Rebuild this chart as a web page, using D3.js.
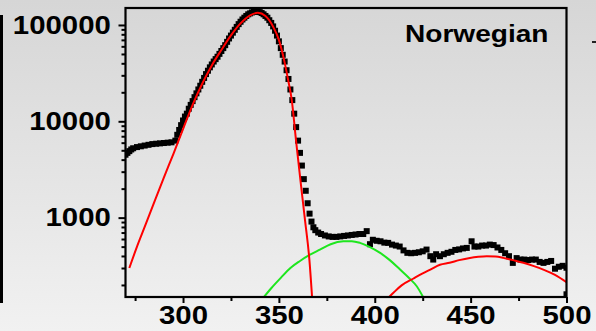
<!DOCTYPE html>
<html>
<head>
<meta charset="utf-8">
<script src="https://cdn.jsdelivr.net/npm/d3@7"></script>
<style>
  body { margin: 0; background: #e4e4e4; }
  svg { display: block; }
</style>
</head>
<body>
<svg id="chart" width="596" height="331"></svg>
<script>
// measured counts (black squares)
const dataX = [270,271,272,273,274,276,278,280,282,284,286,288,290,292,294,296,
  297,298,299,300,301,302,303,304,305,306,307,308,309,310,311,312,313,314,315,316,317,318,319,320,
  321,322,323,324,325,326,327,328,329,330,331,332,333,334,335,336,337,338,339,340,341,342,343,344,345,346,347,348,349,
  350,351,352,353,354,355,356,357,358,359,360,361,362,363,
  364,365,366,367,368,369,370.5,372,374,376,378,380,382,384,386,388,390,392,394,395.8,397.5,399,401,
  403,405,407,409,411,413,415,417,419,421,423,425,427,429,430.5,432,434,436,438,440,442,444,446,448,
  450.5,452,454,456,458,460,462,464,466,468,470,472,474,476,478,480,482,484,486,488,490,492,494,496,498,500,500];
const dataY = [4500,4700,4900,5100,5250,5400,5500,5600,5700,5800,5850,5900,5950,6000,6050,6300,
  7240,8130,9120,10200,11200,12000,13500,14800,16200,17800,19500,21400,23400,25700,28200,30900,33500,36300,38900,41700,44200,46800,50100,53700,
  57500,61700,66800,72400,77600,83200,89100,95500,102000,108000,114000,119000,124000,129000,132000,135000,137000,138000,138000,136000,133000,129000,124000,119000,112000,105000,96600,87100,77600,
  67600,57500,49000,41700,33900,27500,21400,16600,12000,8700,6300,4700,3470,2510,
  1900,1410,1100,910,794,741,700,676,653,638,631,631,638,646,653,661,668,676,676,724,530,589,575,
  568,550,547,525,513,501,457,431,427,431,437,447,466,398,367,417,398,417,431,442,462,468,479,485,
  568,501,501,513,513,525,519,490,462,427,398,339,380,367,367,363,367,367,347,339,347,355,295,309,316,302,160];

// main peak fit (red)
const fitX = [272,276,280,285,290,295,300,305,310,315,320,325,330,335,339,343,347,350,352.7,354.8,356.7,358.9,361.2,363.6,365.9,367.4];
const fitY = [300,500,800,1450,2600,4600,8300,14800,24500,38000,55000,78000,104000,126000,134000,124000,96000,70000,43400,27000,16700,6430,2480,950,367,140];

// second component (green)
const greenX = [341,346,351,356,361,366,371.4,377,383.6,388,392.3,397,402.8,408,413.2,418,421.9,426];
const greenY = [140,185,237,300,355,410,466,530,568,570,547,500,430,360,289,235,194,140];

// third component (red)
const red2X = [406,410,414,420,425,429,434,439,444,449.6,454,458.4,463,467,472,477.5,483,487.9,494,500];
const red2Y = [140,168,198,232,264,289,324,340,362,382,392,397,394,382,362,340,314,289,255,214];

const xMajor = [300, 350, 400, 450, 500];
const xMinor = [275, 325, 375, 425, 475];
const yMajor = [1000, 10000, 100000];
const yMinor = [200,300,400,500,600,700,800,900,2000,3000,4000,5000,6000,7000,8000,9000,
  20000,30000,40000,50000,60000,70000,80000,90000];
const label = "Norwegian";

const svg = d3.select("#chart");
const plotL = 125.5, plotR = 566.5, plotT = 8, plotB = 297;

const defs = svg.append("defs");
const grad = defs.append("linearGradient")
    .attr("id", "bg")
    .attr("x1", 0).attr("y1", 0).attr("x2", 0).attr("y2", 1);
grad.append("stop").attr("offset", "0%").attr("stop-color", "#d6d6d6");
grad.append("stop").attr("offset", "100%").attr("stop-color", "#f1f1f1");

defs.append("clipPath").attr("id", "plot")
  .append("rect")
    .attr("x", plotL).attr("y", plotT)
    .attr("width", plotR - plotL).attr("height", plotB - plotT);

svg.append("rect")
    .attr("width", 596).attr("height", 331)
    .attr("fill", "url(#bg)");

// bits of neighbouring panels
svg.append("line")
    .attr("x1", 1.5).attr("x2", 1.5).attr("y1", 15).attr("y2", 303)
    .attr("stroke", "#000").attr("stroke-width", 3);
svg.append("line")
    .attr("x1", 592).attr("x2", 596).attr("y1", 42).attr("y2", 42)
    .attr("stroke", "#222").attr("stroke-width", 2);

const x = d3.scaleLinear().domain([270, 500]).range([plotL, plotR]);
const y = d3.scaleLog().domain([150, 150000]).range([plotB, plotT]);

const g = svg.append("g").attr("clip-path", "url(#plot)");

const line = d3.line()
    .x(d => x(d[0]))
    .y(d => y(d[1]))
    .curve(d3.curveMonotoneX);

// data squares
g.selectAll("rect.pt")
  .data(d3.zip(dataX, dataY))
  .enter()
  .append("rect")
    .attr("class", "pt")
    .attr("x", d => x(d[0]) - 3)
    .attr("y", d => y(d[1]) - 3)
    .attr("width", 6)
    .attr("height", 6)
    .attr("fill", "#000");

g.append("path")
    .datum(d3.zip(greenX, greenY))
    .attr("d", line)
    .attr("fill", "none")
    .attr("stroke", "#1ee61e")
    .attr("stroke-width", 2);

g.append("path")
    .datum(d3.zip(red2X, red2Y))
    .attr("d", line)
    .attr("fill", "none")
    .attr("stroke", "#ff0000")
    .attr("stroke-width", 2);

g.append("path")
    .datum(d3.zip(fitX, fitY))
    .attr("d", line)
    .attr("fill", "none")
    .attr("stroke", "#ff0000")
    .attr("stroke-width", 2);

// frame
svg.append("rect")
    .attr("x", plotL).attr("y", plotT)
    .attr("width", plotR - plotL).attr("height", plotB - plotT)
    .attr("fill", "none")
    .attr("stroke", "#000")
    .attr("stroke-width", 2.2);

// axes
const fontStyle = sel => sel
    .attr("font-family", "'Liberation Sans', Arial, sans-serif")
    .attr("font-weight", "bold")
    .attr("font-size", 26)
    .attr("fill", "#000");

const xAxisMinor = d3.axisBottom(x).tickValues(xMinor).tickSize(4).tickFormat("");
const xAxisMajor = d3.axisBottom(x).tickValues(xMajor).tickSize(6).tickPadding(3);
const yAxisMinor = d3.axisLeft(y).tickValues(yMinor).tickSize(4).tickFormat("");
const yAxisMajor = d3.axisLeft(y).tickValues(yMajor).tickSize(7).tickPadding(6)
    .tickFormat(d3.format("d"));

[xAxisMinor, xAxisMajor].forEach(ax => {
  svg.append("g")
      .attr("transform", `translate(0,${plotB})`)
      .call(ax)
      .call(s => s.select(".domain").remove());
});
[yAxisMinor, yAxisMajor].forEach(ax => {
  svg.append("g")
      .attr("transform", `translate(${plotL},0)`)
      .call(ax)
      .call(s => s.select(".domain").remove());
});

svg.selectAll(".tick line").attr("stroke", "#000").attr("stroke-width", 2);
svg.selectAll(".tick text")
    .call(fontStyle)
    .attr("transform", "scale(1.13,1)");

svg.append("text")
    .attr("transform", "translate(405,42) scale(1.17,1)")
    .call(fontStyle)
    .attr("font-size", 24)
    .text(label);
</script>
</body>
</html>
